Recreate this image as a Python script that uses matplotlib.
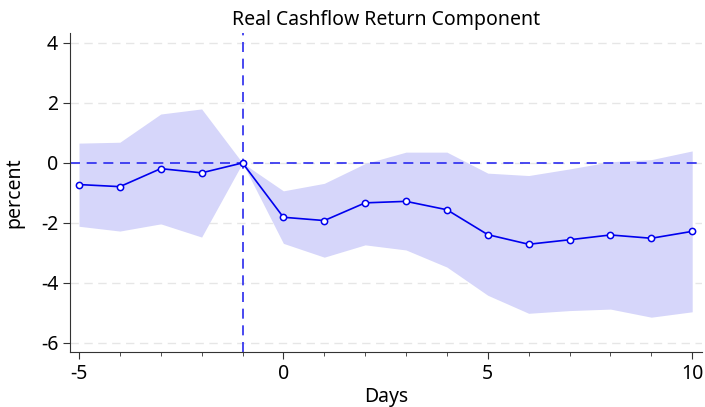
import matplotlib
matplotlib.use("Agg")
import matplotlib.pyplot as plt
from matplotlib.ticker import MultipleLocator

days = [-5, -4, -3, -2, -1, 0, 1, 2, 3, 4, 5, 6, 7, 8, 9, 10]
irf = [-0.72, -0.79, -0.19, -0.33, 0.0, -1.81, -1.92, -1.33, -1.28, -1.56,
       -2.39, -2.71, -2.56, -2.40, -2.51, -2.28]
upper = [0.66, 0.69, 1.63, 1.80, 0.0, -0.93, -0.68, -0.02, 0.36, 0.36,
         -0.34, -0.42, -0.20, 0.04, 0.11, 0.40]
lower = [-2.11, -2.27, -2.03, -2.47, 0.0, -2.68, -3.14, -2.73, -2.90, -3.47,
         -4.41, -5.01, -4.92, -4.87, -5.14, -4.96]
yticks = [-6, -4, -2, 0, 2, 4]
xticks = [-5, 0, 5, 10]

plt.rcParams['font.family'] = ['Noto Sans', 'DejaVu Sans']
plt.rcParams['axes.unicode_minus'] = False
fig = plt.figure(figsize=(7.05, 4.07), dpi=100)
ax = fig.add_axes([70/705, 1-352/407, 632/705, 319/407])

ax.fill_between(days, lower, upper, color='#d6d6fa', linewidth=0, zorder=1)
ax.axhline(0, color='#2a2aee', lw=1.2, ls=(0, (6, 4)), zorder=2)
ax.axvline(-1, color='#2a2aee', lw=1.2, ls=(0, (6, 4)), zorder=2)
ax.plot(days, irf, color='#0000ee', lw=1.2, marker='o', ms=4.5,
        mfc='white', mec='#0000ee', mew=1.1, zorder=3)

ax.set_xlim(-5.22, 10.24)
ax.set_ylim(-6.3, 4.33)
ax.set_yticks(yticks)
ax.set_xticks(xticks)
ax.xaxis.set_minor_locator(MultipleLocator(1))
ax.grid(axis='y', color='#e6e6e6', ls=(0, (6, 4)), lw=1)
ax.set_axisbelow(True)
for s in ['top', 'right']:
    ax.spines[s].set_visible(False)
for s in ['left', 'bottom']:
    ax.spines[s].set_color('#333333')
ax.tick_params(axis='both', labelsize=14, color='#333333', length=5)
ax.tick_params(axis='x', which='minor', length=3, color='#333333')
ax.set_xlabel('Days', fontsize=14, labelpad=2)
ax.set_ylabel('percent', fontsize=14, labelpad=12)
ax.set_title('Real Cashflow Return Component', fontsize=14, pad=6)

fig.savefig('out.png', dpi=100)
